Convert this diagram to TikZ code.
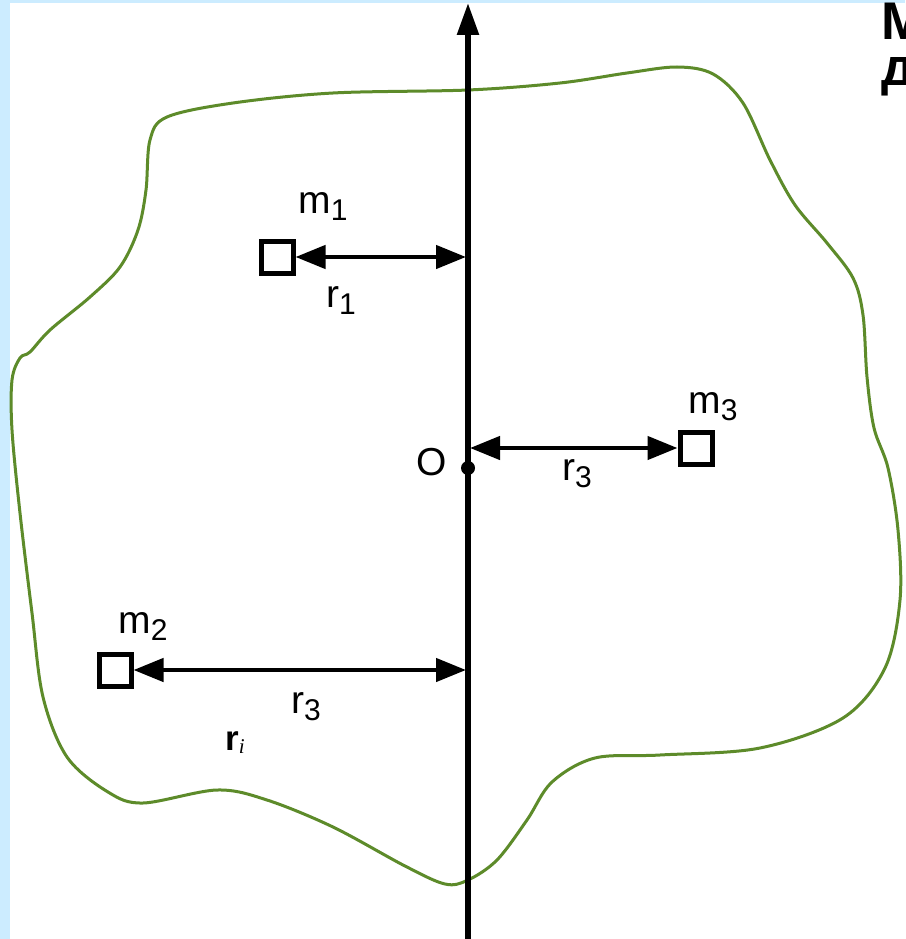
\documentclass[tikz,border=0pt]{standalone}
\usepackage{fontspec}
\setmainfont{Liberation Sans}
\newfontfamily\serifit{Liberation Serif}
\usetikzlibrary{arrows.meta}
\definecolor{bgblue}{RGB}{204, 236, 255}
\definecolor{blobgreen}{RGB}{93, 139, 42}
\newcommand{\lowsub}[1]{\raisebox{-7pt}{\fontsize{30}{30}\selectfont #1}}

\begin{document}
\begin{tikzpicture}[x=1pt, y=-1pt,
    mass/.style={draw, line width=5pt, minimum size=32pt, inner sep=0pt},
    dist/.style={{Triangle[length=30pt,width=23pt]}-{Triangle[length=30pt,width=23pt]}, line width=4.5pt},
    lbl/.style={anchor=base, inner sep=0pt, font=\fontsize{39}{47}\selectfont}]
    \useasboundingbox (0,0) rectangle (905,939);
    \clip (0,0) rectangle (905,939);

    % Background
    \fill[bgblue] (0,0) rectangle (905,939);
    \fill[white] (10,3) rectangle (905,939);

    % Body outline
    \draw[blobgreen, line width=3pt] plot[smooth cycle, tension=0.55] coordinates {
        (468,90) (560,83) (627,73) (677,67) (713,74) (743,103) (770,160)
        (795,205) (827,243) (853,278) (863,315) (867,377) (874,428) (888,468)
        (898,530) (900,600) (885,668) (843,718) (760,748) (660,755) (595,758)
        (552,782) (527,820) (497,860) (468,880) (445,884) (405,866) (333,827)
        (267,800) (217,790) (143,803) (108,792) (67,757) (43,697) (32,613)
        (20,513) (12,430) (12,380) (20,358) (30,352) (50,330) (90,297)
        (120,267) (138,230) (146,190) (150,140) (167,117) (233,103) (333,93)};

    % Axis
    \coordinate (axbot) at (468,945);
    \coordinate (axtop) at (468,3);
    \draw[line width=5.5pt, -{Triangle[length=32pt,width=21pt]}] (axbot) -- (axtop);

    % Origin
    \coordinate (O) at (468,468);
    \fill (O) circle (7pt);
    \node[lbl] (Olbl) at (432,475) {O};

    % Masses
    \node[mass] (m1box) at (277,257) {};
    \node[mass] (m2box) at (115,670) {};
    \node[mass] (m3box) at (696,448) {};

    % Distances to the axis
    \coordinate (a1) at (466,257);
    \coordinate (a2) at (466,670);
    \coordinate (a3) at (470,448);
    \draw[dist] (m1box) -- (a1);
    \draw[dist] (m2box) -- (a2);
    \draw[dist] (a3) -- (m3box);

    % Labels
    \node[lbl] (m1lbl) at (323,213) {m\lowsub{1}};
    \node[lbl] (r1lbl) at (341,307) {r\lowsub{1}};
    \node[lbl] (m3lbl) at (713,413) {m\lowsub{3}};
    \node[lbl] (r3lbl) at (577,480) {r\lowsub{3}};
    \node[lbl] (m2lbl) at (143,633) {m\lowsub{2}};
    \node[lbl] (r2lbl) at (306,713) {r\lowsub{3}};
    \node[anchor=base, inner sep=0pt, font=\fontsize{35}{40}\selectfont\bfseries] (rilbl) at (235,750)
        {r\raisebox{-3pt}{\serifit\itshape\mdseries\fontsize{21}{21}\selectfont i}};

    % Cut-off heading
    \node[anchor=base west, inner sep=0pt, font=\fontsize{53}{60}\selectfont\bfseries] (hdr1) at (881,40) {М};
    \node[anchor=base west, inner sep=0pt, font=\fontsize{53}{60}\selectfont\bfseries] (hdr2) at (881,86) {д};
\end{tikzpicture}
\end{document}
